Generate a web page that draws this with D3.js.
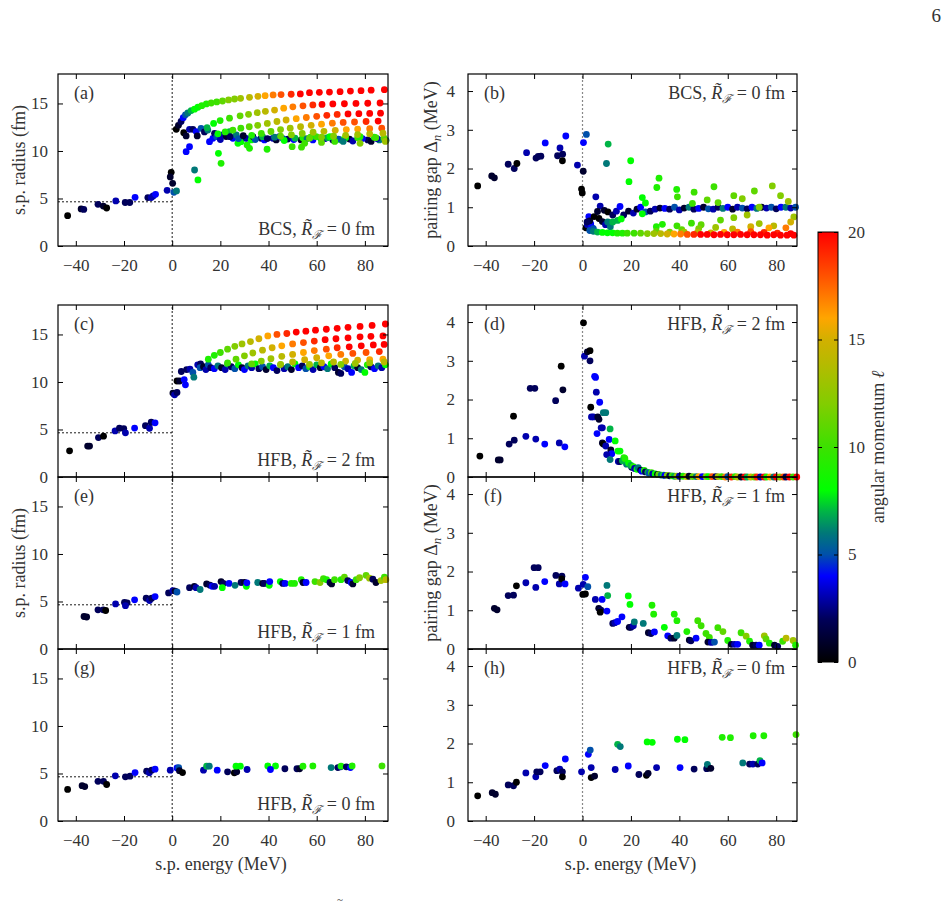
<!DOCTYPE html>
<html>
<head>
<meta charset="utf-8">
<title>Single-particle radius and pairing gap vs energy</title>
<script src="https://cdn.jsdelivr.net/npm/d3@7/dist/d3.min.js"></script>
<style>
  body { margin: 0; background: #fff; }
  text { font-family: "Liberation Serif", "DejaVu Serif", serif; fill: #333; }
</style>
</head>
<body>
<div id="chart"></div>
<script>
// each state: [s.p. energy (MeV), value, angular momentum l]
const bcsRadius = [
  [-43.4,3.19,0],[-37.8,3.9,1],[-36.7,3.85,2],[-30.8,4.39,2],[-28.6,4.2,1],[-27.2,4.0,0],[-23.4,4.74,3],
  [-19.5,4.58,2],[-17.6,4.58,2],[-15.4,5.12,4],[-10.1,5.1,2],[-8.7,5.1,3],[-7.9,5.26,3],[-6.9,5.44,4],
  [-2.1,5.86,3],[-0.4,7.75,0],[-0.8,7.27,1],[0.2,6.6,1],[0.7,5.65,5],[1.8,5.8,6],
  [5.8,9.93,4],[7.2,10.45,4],[9.3,8.0,6],[10.7,6.95,8],[19.2,9.75,8],[20.3,8.7,9],[31.1,10.63,9],
  [32.1,10.28,9],[39.4,10.18,9],[27.3,10.8,8],[49.8,10.45,10],[53.7,10.4,10],
  [1.7,12.28,0],[2.6,12.7,1],[3.7,13.1,2],[4.6,13.5,4],[4.8,11.93,0],[5.8,11.58,1],[7.2,12.28,3],[8.6,12.28,2],
  [10.0,12.04,4],[10.4,11.58,1],[12.0,12.38,5],[13.4,12.0,2],[14.8,12.2,6],[15.5,10.98,4],[16.9,11.33,4],
  [17.6,11.86,2],[21.0,11.68,3],[22.4,11.51,1],[23.8,12.04,7],[25.2,11.33,4],[26.6,11.68,6],[28.6,10.98,8],
  [30.7,11.33,3],[32.8,11.16,8],[33.5,11.51,1],[36.9,11.33,2],[38.3,11.16,4],[41.8,11.33,3],[43.2,11.16,1],
  [44.5,11.51,4],[18.5,11.5,5],[20,11.2,3],[24,11.5,2],[27.5,11.3,5],[29.5,11.6,1],[34.5,11.2,5],[37.5,11.5,7],
  [42.5,11.45,6],[39.5,11.3,2],
  [48.0,11.25,2],[53.5,11.16,1],[54.2,11.4,9],[58.4,11.16,4],[59.8,11.5,10],[61.8,11.25,8],[66.7,11.16,2],
  [67.4,11.33,4],[70.1,11.16,9],[73.6,11.25,1],[75.0,11.05,3],[77.0,11.4,10],[81.2,11.16,2],[82.6,11.0,1],
  [83.9,11.45,9],[86.0,11.16,6],[88.8,11.12,6],[46,11.3,5],[50.5,11.2,4],[56,11.3,6],[63.5,11.3,3],[64.5,11.4,7],
  [69,11.25,5],[72,11.4,8],[79,11.3,4],[85,11.3,3],[46.5,11.1,8],[51,11.35,7],[57.5,11.45,9],[65.5,11.5,8],
  [71,11.0,6],[78,11.5,9],[84.5,11.4,10],[88,11.35,11],[55,10.8,10],[62,10.9,11],[67.5,11.0,10],[78,10.8,12],
  [88.5,11.0,13],
  [5.5,13.8,5],[6.5,14.0,6],[7.9,14.25,7],[9.3,14.4,8],[10.7,14.6,8],[12.3,14.77,9],[14.2,14.95,9],[16.2,15.05,10],
  [18.5,15.16,10],[20.9,15.26,11],[23.4,15.37,12],[25.9,15.47,12],[28.4,15.54,13],[32.1,15.65,14],[35.6,15.75,15],
  [38.6,15.82,16],[41.9,15.9,17],[45.2,15.93,18],[49.4,15.97,19],[53.2,16.0,20],[57,16.14,20],[61.1,16.17,20],
  [65.3,16.2,20],[69.7,16.24,20],[74,16.3,20],[78.4,16.35,20],[82.6,16.4,20],[88.1,16.45,20],
  [14.5,12.45,7],[17.2,12.9,8],[19.9,13.2,9],[23.8,13.45,10],[28.2,13.7,11],[31.7,13.86,12],[35.3,14.03,13],
  [38.7,14.17,14],[42.5,14.3,15],[46.3,14.5,16],[50.1,14.65,17],[54.3,14.75,18],[58.4,14.85,19],[62.2,14.9,20],
  [66.7,14.95,20],[71.5,14.97,20],[76.3,15.0,20],[81.2,15.02,20],[86.3,15.05,20],
  [19,11.8,8],[22,12.0,9],[25.2,12.2,10],[28.5,12.4,10],[32,12.55,11],[35.5,12.7,12],[39.5,12.9,13],[43.5,13.1,14],
  [47.3,13.26,15],[51.5,13.4,16],[55.7,13.52,17],[60,13.65,18],[64.2,13.75,19],[68.5,13.85,19],[73,13.9,20],
  [77.5,13.93,20],[82,13.95,20],[86.5,13.98,20],
  [33,11.65,9],[37,11.85,10],[41,12.05,11],[45,12.25,12],[49,12.4,13],[53.3,12.55,14],[57.7,12.7,15],[62,12.82,16],
  [66.5,12.92,17],[71,13.0,18],[75.7,13.05,18],[80.5,13.1,19],[85.5,13.15,20],
  [45,11.55,11],[49.5,11.7,12],[54,11.85,12],[58.5,11.97,13],[63,12.07,14],[67.7,12.17,15],[72.3,12.25,16],
  [77,12.3,16],[82,12.35,17],[87,12.4,18],
  [57,11.35,11],[62,11.45,12],[67,11.55,12],[72,11.65,13],[77,11.73,13],[82,11.8,14],[87.5,11.87,14]
];

const bcsGap = [
  [-43.3,1.55,0],[-37.5,1.81,1],[-36.4,1.76,1],[-30.7,2.11,2],[-28.2,2.0,2],[-27.1,2.13,0],[-23.1,2.41,3],
  [-19.2,2.27,2],[-18.3,2.31,2],[-17.2,2.32,2],[-15.4,2.66,4],[-10.3,2.33,2],[-9.3,2.53,3],[-8.2,2.37,2],
  [-8.3,2.2,0],[-6.9,2.84,4],[-2.1,2.09,3],[0.3,1.93,1],[-0.4,1.47,0],[-0.1,1.37,0],[0.4,2.67,4],[1.6,2.88,5],
  [1.4,0.47,0],
  [2.0,0.55,3],[2.6,0.76,4],[3.4,0.57,4],[4.1,0.46,4],[3.0,0.65,1],[1.9,0.62,2],[4.5,0.45,5],[4.8,0.76,0],
  [5.5,1.27,3],[6.8,0.71,0],[7.3,1.03,3],[6.2,0.89,1],[8.2,0.63,1],[9.5,0.55,3],[10.4,0.62,6],[11.5,0.5,6],
  [9,0.92,1],[10.5,0.88,0],[12.5,0.8,2],[14,0.9,3],[15.5,1.02,4],[17,0.8,2],[19,0.9,1],[21,0.85,3],[22.5,0.95,1],
  [24,1.0,4],[26,0.88,5],[28,0.9,2],[30,0.95,3],[32,0.98,1],[34,0.97,4],[36,0.95,2],[38,1.0,5],[40,0.93,3],
  [42,0.98,1],[44,1.0,6],[46,0.95,2],[48,0.97,4],[50,1.0,1],[52,0.96,5],[54,0.95,3],[56,1.0,2],[58,0.97,6],
  [60,1.0,4],[62,0.95,1],[64,1.0,3],[66,0.98,5],[68,0.96,2],[70,1.0,4],[72,0.97,6],[74,1.0,1],[76,0.98,3],
  [78,1.0,5],[80,0.96,2],[82,1.0,4],[84,1.0,6],[86,0.98,3],[88,1.0,5],
  [10.6,2.63,7],[9.9,2.13,6],[19.9,2.2,8],[19.2,1.66,8],[31.6,1.75,9],[30.7,1.51,9],[38.9,1.46,9],[39.2,1.27,10],
  [46.1,1.39,10],[45.4,1.1,10],[54.3,1.53,10],[51.5,1.19,11],[56,1.12,11],[62.5,1.3,11],[66,1.22,12],[71,1.42,11],
  [73,1.0,12],[78.4,1.55,12],[81.8,1.3,12],[85,1.15,13],[87.3,0.75,13],[24.7,1.25,8],[26,1.11,8],
  [12.5,0.62,7],[14.5,0.66,7],[16,0.70,8],[24.7,0.83,8],[30.5,0.50,9],[33,0.56,9],[39,0.52,10],[45,0.59,10],
  [49,0.55,11],[57,0.67,11],[62.5,0.73,12],[68,0.80,13],[73,0.58,13],[79,0.52,14],[86,0.62,15],
  [41,0.42,11],[48,0.45,12],[55,0.48,13],[62,0.44,14],[69.5,0.5,15],[77,0.47,16],[84,0.47,17],
  [30.5,0.38,11],[36,0.36,12],[42,0.36,13],[47.5,0.35,14],[53,0.34,15],[58.5,0.35,16],[64,0.36,17],[69.5,0.37,18],
  [75,0.35,19],[80.5,0.33,19],[86,0.32,20],
  [3,0.40,5],[4.5,0.38,6],[6.2,0.36,7],[8.2,0.35,8],[10.3,0.34,8],[12.4,0.34,8],[14.4,0.33,9],[16.5,0.33,9],
  [18.5,0.33,10],[21.3,0.33,10],[24.0,0.33,11],[26.8,0.32,12],[29.5,0.32,13],[32.3,0.32,14],[35.0,0.31,15],
  [37.8,0.31,16],[40.5,0.31,17],[43.3,0.30,18],[46.0,0.30,19],[48.8,0.30,20],[51.5,0.30,20],[54.3,0.29,20],
  [57.0,0.30,20],[59.8,0.29,20],[62.5,0.29,20],[65.3,0.30,20],[68,0.29,20],[70.8,0.29,20],[73.5,0.29,20],
  [76.3,0.28,20],[79,0.29,20],[81.8,0.28,20],[84.5,0.28,20],[87.3,0.28,20]
];

const hfb2Radius = [
  [-42.6,2.75,0],[-35.1,3.25,1],[-34.3,3.25,1],[-30.6,4.15,2],[-28.5,4.3,0],[-23.7,4.85,3],[-21.9,5.13,2],
  [-20.1,5.1,2],[-19.4,4.65,3],[-15.6,5.15,4],[-11.1,5.4,2],[-9.4,5.13,3],[-8.7,5.76,2],[-7.1,5.7,4],
  [0.3,8.83,1],[1.0,8.65,3],[2.0,8.9,2],[2.0,10.1,0],[3.1,10.1,1],[3.8,11.1,2],[5.0,10.25,4],[5.5,9.7,4],
  [6.0,11.3,2],[7.4,11.35,3],[8.6,11.0,5],[9.0,10.5,6],[10.6,11.8,3],[11.8,11.9,2],[11.6,11.5,5],
  [13,11.6,1],[14,11.3,3],[15,11.8,5],[16,11.5,2],[17.5,11.4,4],[19,11.7,6],[20.5,11.5,1],[22,11.3,3],[23,11.9,7],
  [24.5,11.6,2],[26,11.4,5],[27.5,11.8,8],[29,11.5,1],[30,11.3,4],[31.5,11.7,6],[33,11.5,3],[34.5,11.9,8],
  [36,11.4,2],[37.5,11.6,5],[39,11.3,1],[40.5,11.7,7],[42,11.5,4],[43.5,11.2,2],[45,11.8,9],[46.5,11.4,3],
  [48,11.6,6],[49.5,11.3,1],[51,11.9,8],[52.5,11.5,4],[54,11.7,2],[55.5,11.4,5],[57,11.6,9],[58.5,11.3,3],
  [60,11.8,7],[61.5,11.5,1],[63,11.6,4],[64.5,11.4,6],[66,11.9,8],[67.5,11.5,2],[69,11.0,1],[70,10.9,2],
  [71.5,11.6,5],[73,11.4,3],[74.5,11.0,4],[75.5,11.7,7],[77,11.5,1],[78.5,11.3,6],[80,11.0,8],[81,11.8,9],
  [82.5,11.6,2],[84,11.4,4],[85.5,11.7,6],[87,11.5,3],[88.5,11.8,8],
  [15,12.4,9],[17.5,12.8,9],[20,13.1,10],[23,13.45,11],[26,13.75,12],[29,14.0,13],[32.5,14.25,14],[36,14.55,15],
  [39.7,14.85,16],[43.5,15.0,18],[47.6,15.1,19],[51.5,15.25,20],[55.5,15.35,20],[59.5,15.45,20],[64,15.55,20],
  [68.5,15.65,20],[73,15.75,20],[78,15.85,20],[83,15.95,20],[88.5,16.1,20],
  [23,12.0,10],[26.5,12.4,11],[30,12.75,12],[33.5,13.05,13],[37.5,13.35,14],[41.5,13.6,15],[45.5,13.8,16],
  [50,14.0,17],[54.5,14.15,18],[59,14.3,19],[63.5,14.45,20],[68,14.55,20],[73,14.65,20],[78,14.75,20],
  [82.5,14.8,20],[87.5,14.85,20],
  [33,11.9,11],[37,12.2,12],[41,12.45,13],[45.5,12.7,14],[50,12.9,15],[54.5,13.1,16],[59,13.3,17],[64,13.45,18],
  [68.5,13.6,19],[73.5,13.7,20],[78.5,13.8,20],[83.5,13.9,20],[88,13.95,20],
  [45,11.85,13],[50,12.1,14],[55,12.35,15],[60,12.55,15],[65,12.75,16],[70,12.9,17],[75,13.0,18],[80.5,13.1,18],
  [86,13.2,19],
  [57,11.85,13],[62,12.0,14],[67,12.1,14],[72,12.2,15],[77,12.3,15],[82,12.35,16],[87.5,12.4,16],
  [70,11.85,12],[76,11.95,13],[82,12.0,13],[88,12.1,14]
];

const hfb2Gap = [
  [-42.4,0.54,0],[-34.8,0.44,1],[-34.0,0.44,1],[-30.3,0.85,2],[-28.5,1.57,0],[-28.2,0.95,2],[-23.4,1.05,3],
  [-21.6,2.29,2],[-19.7,2.29,2],[-19.3,0.98,3],[-15.6,0.85,4],[-11.1,1.97,2],[-9.6,0.88,3],[-8.8,2.86,0],
  [-8.1,2.25,1],[-7.3,0.78,4],
  [0.4,3.98,0],[0.8,3.12,3],[2.0,3.23,1],[3.1,3.26,0],[3.1,3.0,2],[5.0,2.6,4],[5.4,2.57,4],[5.7,2.19,3],
  [7.1,1.93,4],[3.4,1.8,0],[3.7,1.55,3],[4.5,1.55,3],[6.3,1.55,1],[6.8,1.49,1],[7.7,1.27,3],[8.2,1.27,3],
  [6.0,1.12,4],[8.6,1.66,6],[9.6,1.66,6],[8.2,0.88,1],[8.6,0.85,0],[9.6,0.8,3],[11.4,1.24,7],[11.0,0.97,4],
  [11.7,0.7,1],[12.1,0.6,4],[10.0,0.58,3],[11.4,0.45,6],[13.5,0.93,8],[14.6,0.67,8],[15.5,0.67,8],[14.8,0.4,3],
  [15.5,0.4,2],[17.1,0.5,9],[18.2,0.33,6],[20.3,0.25,2],[16.5,0.42,7],[17.5,0.48,9],[19,0.36,8],
  [20,0.3,7],[21,0.27,9],[21.5,0.22,3],[22.5,0.2,8],[23,0.24,6],[24,0.18,1],[24.5,0.15,4],[25.5,0.17,9],
  [26,0.13,2],[27,0.12,7],[27.5,0.1,5],[28.5,0.11,10],[29,0.08,3],[30,0.08,8],[31,0.07,1],[31.5,0.06,11],
  [32.5,0.05,6],[33.5,0.05,9],[34,0.04,4],[35,0.04,12],[36,0.03,2],[37,0.03,10],[38,0.02,7],[39,0.02,13],
  [40,0.02,3],[41.5,0.02,9],[43,0.01,14],[44,0.02,1],[45.5,0.01,11],[47,0.01,6],[48,0.01,16],[49.5,0.01,4],
  [51,0.01,12],[52,0.01,8],[53.5,0.01,18],[55,0.01,2],[56,0.01,13],[57.5,0.01,10],[59,0.0,17],[60,0.01,5],
  [61.5,0.0,19],[63,0.01,9],[64,0.0,14],[65.5,0.0,1],[67,0.0,20],[68,0.0,7],[69.5,0.0,15],[71,0.0,11],
  [72,0.0,19],[73.5,0.0,3],[75,0.0,20],[76,0.0,9],[77.5,0.0,16],[79,0.0,6],[80,0.0,20],[81.5,0.0,12],
  [83,0.0,18],[84,0.0,2],[85.5,0.0,20],[87,0.0,10],[88.5,0.0,20]
];

const hfb1Radius = [
  [-36.6,3.42,1],[-35.5,3.37,1],[-30.8,4.12,2],[-28.6,4.12,2],[-27.6,4.05,0],[-23.5,4.74,3],[-19.8,4.9,2],
  [-18.7,4.86,2],[-19.4,4.56,3],[-15.6,5.17,4],[-10.8,5.34,2],[-9.4,5.1,3],[-8.5,5.34,2],[-7.1,5.52,4],
  [-1.5,5.9,2],[0.3,6.15,3],[1.2,6.1,1],[2.0,6.0,5],[7.2,6.45,2],[9.2,6.6,1],[9.9,6.45,3],[11.6,6.26,6],
  [14.3,6.85,1],[15.7,6.72,2],[16.6,6.6,4],[17.6,6.6,3],[20.3,7.1,1],[21.2,6.9,2],[20.8,6.45,8],[23.6,6.9,4],
  [26.1,6.7,6],[28.6,7.0,2],[30,7.0,1],[30.8,6.6,8],[31,6.96,4],[35.5,7.0,6],[37.6,6.9,1],[38.3,6.9,2],
  [40.3,6.7,8],[40.5,7.1,4],[44.9,7.1,8],[45.9,6.9,2],[46.9,6.9,4],[49.4,6.9,9],[50.8,6.9,9],[53.6,7.3,9],
  [54.3,7.0,1],[55.6,7.0,4],[59.3,7.1,10],[61.4,7.0,12],[62.8,7.4,10],[64.1,7.3,9],[65.5,7.0,2],[66.2,6.85,1],
  [67.4,7.3,10],[70.1,7.3,9],[71.5,7.55,11],[72.9,7.2,2],[74.3,7.0,4],[75,6.85,1],[76.4,7.3,10],[77.8,7.5,12],
  [80.5,7.75,11],[81.9,7.45,13],[83.3,7.35,2],[84.6,7.0,1],[86.7,7.2,13],[88.1,7.55,10],[88.7,7.3,14]
];

const hfb1Gap = [
  [-36.4,1.05,1],[-35.3,1.01,1],[-30.7,1.38,2],[-28.5,1.39,2],[-27.3,1.63,0],[-23.4,1.71,3],[-20,2.1,2],
  [-18.3,2.1,2],[-19.3,1.59,3],[-15.6,1.74,4],[-11,1.9,2],[-9.6,1.68,3],[-8.5,1.88,2],[-8.6,1.81,0],
  [-7.2,1.68,4],[-1.7,1.57,3],[0.3,1.67,3],[1.2,1.85,4],[2.2,1.61,5],[0.1,1.41,0],[1.2,1.42,0],
  [5.3,1.28,3],[8.1,1.28,4],[6.7,1.05,1],[7.6,1.0,2],[7.3,0.95,0],[10.1,1.64,6],[10.4,1.38,7],[10.1,0.98,4],
  [12.5,0.66,2],[13.4,0.68,3],[14.5,0.71,4],[16.3,0.83,4],[18.9,1.37,8],[19.6,1.15,8],[19.3,0.56,1],
  [20,0.56,2],[21,0.6,3],[21.4,0.7,6],[25.1,0.66,6],[27.2,0.42,1],[28.3,0.4,2],[29.7,0.44,4],[33.8,0.56,8],
  [28.7,1.13,9],[29.4,0.9,9],[37.9,0.9,9],[39.0,0.73,9],[35.2,0.34,4],[36.5,0.28,2],[37.9,0.28,1],[39.0,0.35,6],
  [43.1,0.45,9],[44.1,0.23,1],[44.8,0.21,2],[46.9,0.28,4],[47.6,0.73,10],[49,0.6,10],[51,0.4,10],[52.4,0.3,10],
  [51.8,0.18,1],[53.2,0.17,3],[54.5,0.18,5],[55.9,0.55,10],[58,0.45,11],[60,0.22,9],[61.5,0.12,1],[62.8,0.12,3],
  [64.1,0.12,4],[65.5,0.42,10],[67.6,0.33,12],[69,0.2,9],[70.3,0.1,1],[71.7,0.1,2],[73,0.1,4],[75.1,0.34,13],
  [75.8,0.26,11],[77.2,0.15,9],[79.3,0.1,1],[80.6,0.07,2],[82.7,0.2,10],[84.1,0.28,14],[87,0.22,13],[88,0.1,9]
];

const hfb0Radius = [
  [-43.4,3.32,0],[-37.4,3.72,1],[-36.3,3.62,1],[-30.8,4.18,2],[-28.5,4.18,2],[-27.2,3.84,0],[-23.6,4.75,3],
  [-19.4,4.65,2],[-17.5,4.72,2],[-15.4,5.1,4],[-10.6,5.24,2],[-9.5,5.07,3],[-8.5,5.35,2],[-7.1,5.45,4],
  [-0.8,5.35,3],[2.0,5.58,4],[2.7,5.62,5],[3.0,5.3,1],[4.3,5.1,0],[13,5.35,3],[14.3,5.77,7],[15.4,5.77,6],
  [18.7,5.35,4],[23.0,5.17,2],[25.8,5.07,0],[26.8,5.17,1],[26.5,5.77,8],[28.3,5.77,8],[31.1,5.42,3],
  [39.7,5.8,8],[42.9,5.8,8],[40.8,5.42,4],[46.8,5.5,2],[51.8,5.5,2],[52.9,5.5,1],[54.3,5.77,9],[58.4,5.8,9],
  [66,5.62,6],[68.8,5.62,2],[69.9,5.7,3],[70.1,5.77,9],[72.3,5.7,2],[74,5.62,4],[74.7,5.8,9],[87.1,5.8,10]
];

const hfb0Gap = [
  [-43.3,0.65,0],[-37.3,0.73,1],[-36.0,0.69,1],[-30.7,0.93,2],[-28.5,0.91,2],[-27.3,1.0,0],[-23.4,1.24,3],
  [-19.3,1.14,3],[-18.9,1.27,2],[-17.5,1.27,2],[-15.4,1.43,4],[-10.6,1.3,2],[-9.4,1.34,3],[-8.3,1.27,2],
  [-8.3,1.14,0],[-7.1,1.6,4],[-0.4,1.27,3],[2.4,1.72,4],[3.2,1.83,5],[3.6,1.38,3],[3.6,1.12,0],[5,1.16,1],
  [13.5,1.33,3],[14.5,1.98,7],[15.6,1.92,6],[18.9,1.42,4],[23.3,1.2,2],[26.4,1.18,0],[27.1,1.23,1],
  [26.7,2.04,8],[28.8,2.03,8],[30.6,1.38,3],[39.2,2.11,8],[42.3,2.1,8],[40.3,1.38,4],[46.1,1.34,2],
  [51.3,1.35,2],[52.3,1.37,1],[51.6,1.46,6],[53.0,1.36,1],[57.7,2.16,9],[61.1,2.15,9],[66.2,1.5,6],
  [69,1.47,2],[70.4,1.47,3],[70.5,2.2,9],[74.9,2.2,9],[72.4,1.47,2],[73.3,1.56,7],[74.2,1.5,4],[88.2,2.23,10]
];

const energyTicks = [-40, -20, 0, 20, 40, 60, 80];
const radiusTicks = [0, 5, 10, 15];
const gapTicks = [0, 1, 2, 3, 4];
const ellTicks = [0, 5, 10, 15, 20];
const ellStops = [0, 2, 4, 5, 6, 7, 8, 10, 12, 14, 15, 16, 18, 20];
const ellColors = ['#000000', '#00005a', '#0000ff', '#0050aa', '#007878', '#00b446', '#00ff00',
                   '#3ce100', '#82cd00', '#b9b900', '#d2b000', '#ffa500', '#ff5000', '#ff0000'];
const fermiRadius = 4.65;

const panels = [
  { data: bcsRadius, col: 0, row: 0, kind: 'radius', tag: '(a)', method: 'BCS', rf: '0', xLabels: true, yTitle: true },
  { data: bcsGap, col: 1, row: 0, kind: 'gap', tag: '(b)', method: 'BCS', rf: '0', xLabels: true, yTitle: true },
  { data: hfb2Radius, col: 0, row: 1, kind: 'radius', tag: '(c)', method: 'HFB', rf: '2', xLabels: false, yTitle: false },
  { data: hfb2Gap, col: 1, row: 1, kind: 'gap', tag: '(d)', method: 'HFB', rf: '2', xLabels: false, yTitle: false },
  { data: hfb1Radius, col: 0, row: 2, kind: 'radius', tag: '(e)', method: 'HFB', rf: '1', xLabels: false, yTitle: true },
  { data: hfb1Gap, col: 1, row: 2, kind: 'gap', tag: '(f)', method: 'HFB', rf: '1', xLabels: false, yTitle: true },
  { data: hfb0Radius, col: 0, row: 3, kind: 'radius', tag: '(g)', method: 'HFB', rf: '0', xLabels: true, yTitle: false, xTitle: true },
  { data: hfb0Gap, col: 1, row: 3, kind: 'gap', tag: '(h)', method: 'HFB', rf: '0', xLabels: true, yTitle: false, xTitle: true }
];

const colX = [[58, 388], [468, 797]];
const colDomain = [[-47.4, 89.6], [-47.3, 88.6]];
const rowY = [[74, 246], [305, 477], [477, 649], [649, 821]];

const svg = d3.select('#chart')
  .append('svg')
  .attr('width', 947)
  .attr('height', 907);

const color = d3.scaleLinear().domain(ellStops).range(ellColors).clamp(true);

function styleAxis(g, size) {
  g.select('.domain').remove();
  g.selectAll('line').attr('stroke', '#000');
  g.selectAll('text')
    .attr('font-family', '"Liberation Serif", serif')
    .attr('font-size', size)
    .attr('fill', '#333');
}

function note(g, x, y, method, rf) {
  const t = g.append('text')
    .attr('x', x).attr('y', y)
    .attr('text-anchor', 'end')
    .attr('font-size', 18);
  t.append('tspan').text(method + ', ');
  t.append('tspan').attr('font-style', 'italic').text('R\u0303');
  t.append('tspan').attr('font-size', 12).attr('dy', 4).attr('font-style', 'italic').text('\u2131');
  t.append('tspan').attr('dy', -4).text(' = ' + rf + ' fm');
}

function drawPanel(p) {
  const [left, right] = colX[p.col];
  const [top, bottom] = rowY[p.row];
  const yDomain = p.kind === 'radius' ? [0, 18.1] : [0, 4.44];
  const yTicks = p.kind === 'radius' ? radiusTicks : gapTicks;

  const x = d3.scaleLinear().domain(colDomain[p.col]).range([left, right]);
  const y = d3.scaleLinear().domain(yDomain).range([bottom, top]);
  const g = svg.append('g');

  // zero-energy line
  g.append('line')
    .attr('x1', x(0)).attr('x2', x(0))
    .attr('y1', y(yDomain[0])).attr('y2', y(yDomain[1]))
    .attr('stroke', p.kind === 'radius' ? '#000' : '#888')
    .attr('stroke-width', p.kind === 'radius' ? 0.9 : 1.2)
    .attr('stroke-dasharray', '2,2');

  if (p.kind === 'radius') {
    g.append('line')
      .attr('x1', left).attr('x2', x(0))
      .attr('y1', y(fermiRadius)).attr('y2', y(fermiRadius))
      .attr('stroke', '#000')
      .attr('stroke-width', 0.9)
      .attr('stroke-dasharray', '2,2');
  }

  g.selectAll('circle')
    .data(p.data)
    .enter()
    .append('circle')
    .attr('cx', d => x(d[0]))
    .attr('cy', d => y(d[1]))
    .attr('r', 3.4)
    .attr('fill', d => color(d[2]));

  // frame and mirrored inward ticks
  g.append('rect')
    .attr('x', left).attr('y', top)
    .attr('width', right - left).attr('height', bottom - top)
    .attr('fill', 'none')
    .attr('stroke', '#000')
    .attr('stroke-width', 1.2);

  const bottomAxis = g.append('g')
    .attr('transform', 'translate(0,' + bottom + ')')
    .call(d3.axisBottom(x).tickValues(energyTicks).tickSize(-5).tickPadding(13)
      .tickFormat(p.xLabels ? d3.format('d') : ''));
  styleAxis(bottomAxis, 17);

  const topAxis = g.append('g')
    .attr('transform', 'translate(0,' + top + ')')
    .call(d3.axisTop(x).tickValues(energyTicks).tickSize(-5).tickFormat(''));
  styleAxis(topAxis, 17);

  const leftAxis = g.append('g')
    .attr('transform', 'translate(' + left + ',0)')
    .call(d3.axisLeft(y).tickValues(yTicks).tickSize(-5).tickPadding(p.kind === 'radius' ? 10 : 13)
      .tickFormat(d3.format('d')));
  styleAxis(leftAxis, 17);

  const rightAxis = g.append('g')
    .attr('transform', 'translate(' + right + ',0)')
    .call(d3.axisRight(y).tickValues(yTicks).tickSize(-5).tickFormat(''));
  styleAxis(rightAxis, 17);

  g.append('text')
    .attr('x', left + 16)
    .attr('y', top + 25)
    .attr('font-size', 18)
    .text(p.tag);

  if (p.kind === 'radius') {
    note(g, right - 13, bottom - 11, p.method, p.rf);
  } else {
    note(g, right - 12, top + 25, p.method, p.rf);
  }

  if (p.yTitle) {
    const cy = (top + bottom) / 2;
    if (p.kind === 'radius') {
      g.append('text')
        .attr('transform', 'translate(' + (left - 33) + ',' + cy + ') rotate(-90)')
        .attr('text-anchor', 'middle')
        .attr('font-size', 18)
        .text('s.p. radius (fm)');
    } else {
      const t = g.append('text')
        .attr('transform', 'translate(' + (left - 31) + ',' + cy + ') rotate(-90)')
        .attr('text-anchor', 'middle')
        .attr('font-size', 18);
      t.append('tspan').text('pairing gap \u0394');
      t.append('tspan').attr('font-style', 'italic').attr('font-size', 13).attr('dy', 4).text('n');
      t.append('tspan').attr('dy', -4).text(' (MeV)');
    }
  }

  if (p.xTitle) {
    g.append('text')
      .attr('x', (left + right) / 2 - 2)
      .attr('y', bottom + 49)
      .attr('text-anchor', 'middle')
      .attr('font-size', 18)
      .text('s.p. energy (MeV)');
  }
}

panels.forEach(drawPanel);

// colour bar for angular momentum
const barLeft = 818, barRight = 838, barTop = 232, barBottom = 662;
const grad = svg.append('defs').append('linearGradient')
  .attr('id', 'ellGrad')
  .attr('x1', 0).attr('y1', 1).attr('x2', 0).attr('y2', 0);
grad.selectAll('stop')
  .data(ellStops)
  .enter()
  .append('stop')
  .attr('offset', d => d / 20)
  .attr('stop-color', d => color(d));

svg.append('rect')
  .attr('x', barLeft).attr('y', barTop)
  .attr('width', barRight - barLeft).attr('height', barBottom - barTop)
  .attr('fill', 'url(#ellGrad)')
  .attr('stroke', '#000')
  .attr('stroke-width', 1);

const ellScale = d3.scaleLinear().domain([0, 20]).range([barBottom, barTop]);
const barAxis = svg.append('g')
  .attr('transform', 'translate(' + barRight + ',0)')
  .call(d3.axisRight(ellScale).tickValues(ellTicks).tickSize(-4).tickPadding(10).tickFormat(d3.format('d')));
styleAxis(barAxis, 17);
const barAxisL = svg.append('g')
  .attr('transform', 'translate(' + barLeft + ',0)')
  .call(d3.axisLeft(ellScale).tickValues(ellTicks).tickSize(-4).tickFormat(''));
styleAxis(barAxisL, 17);

const ellTitle = svg.append('text')
  .attr('transform', 'translate(884,' + ((barTop + barBottom) / 2) + ') rotate(-90)')
  .attr('text-anchor', 'middle')
  .attr('font-size', 18);
ellTitle.append('tspan').text('angular momentum ');
ellTitle.append('tspan').attr('font-style', 'italic').text('\u2113');

// page number and start of the caption below the figure
svg.append('text')
  .attr('x', 941).attr('y', 22)
  .attr('text-anchor', 'end')
  .attr('font-size', 19)
  .attr('fill', '#111')
  .text('6');

svg.append('text')
  .attr('x', 337).attr('y', 903)
  .attr('font-size', 11)
  .attr('fill', '#666')
  .text('~');
</script>
</body>
</html>
